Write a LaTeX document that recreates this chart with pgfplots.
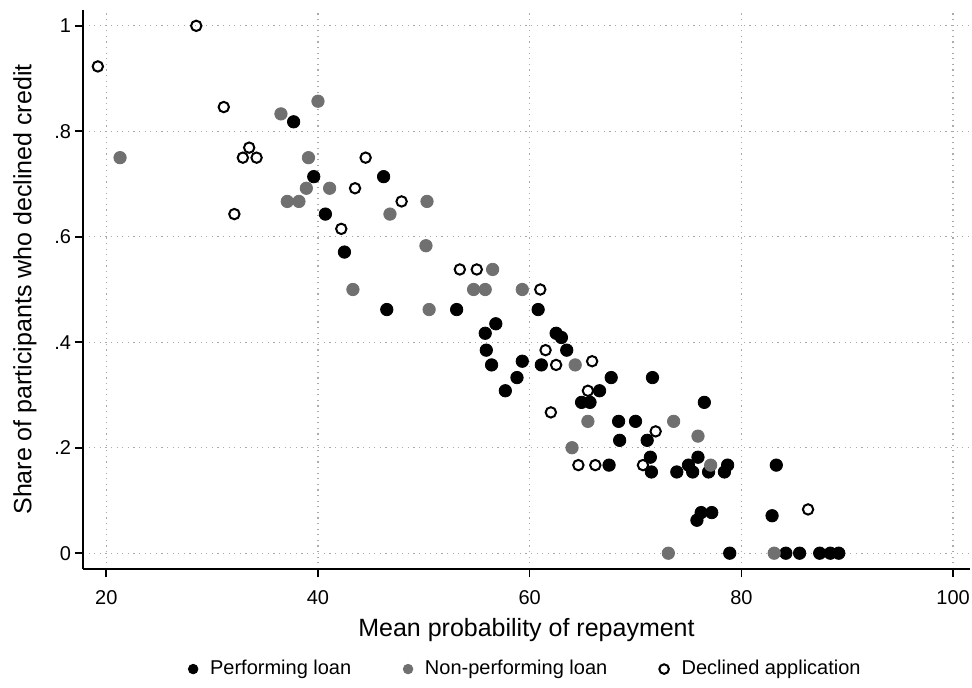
\documentclass[border=0pt]{standalone}
\usepackage{pgfplots}
\pgfplotsset{compat=1.18}
\usepackage{fontspec}
\setmainfont{Liberation Sans}
\definecolor{npgray}{RGB}{112,112,112}
\definecolor{gridgray}{RGB}{170,170,170}

\begin{document}
\begin{tikzpicture}
\path[use as bounding box] (-41.5pt,-59pt) rectangle (444.5pt,284.5pt);
\begin{axis}[
  scale only axis,
  width=443.5pt, height=279.5pt,
  xmin=17.8, xmax=101.6,
  ymin=-0.03, ymax=1.03,
  axis x line*=bottom, axis y line*=left,
  axis line style={line width=0.8pt, black},
  xtick={20,40,60,80,100},
  xticklabels={20,40,60,80,100},
  ytick={0,0.2,0.4,0.6,0.8,1},
  yticklabels={0,.2,.4,.6,.8,1},
  tick align=outside,
  major tick length=4pt,
  tick style={line width=0.8pt, black},
  /pgf/number format/assume math mode=true,
  ticklabel style={font=\fontsize{10}{12}\selectfont},
  xticklabel style={yshift=-3pt},
  yticklabel style={xshift=1.5pt},
  grid=major,
  major grid style={gridgray, line width=0.6pt, dash pattern=on 0.6pt off 2.2pt},
  xlabel={Mean probability of repayment},
  ylabel={Share of participants who declined credit},
  label style={font=\fontsize{12.5}{15}\selectfont},
  xlabel style={at={(axis description cs:0.5,-0.109)}, anchor=center},
  ylabel style={at={(axis description cs:-0.0654,0.5)}, anchor=center},
  legend columns=3,
  legend style={draw=none, fill=none, at={(0.5,-0.179)}, anchor=center,
    font=\fontsize{10}{12}\selectfont,
    /tikz/every even column/.append style={column sep=24pt}},
  legend image code/.code={\path[#1, mark size=2.4pt] plot coordinates {(0cm,0cm)}; \path (0.22cm,0cm);},
]
\addplot[only marks, mark=*, mark size=3.1pt, draw=black, fill=black] coordinates {
(37.7,0.818) (39.6,0.714) (40.7,0.643) (42.5,0.571) (46.2,0.714) (46.5,0.462)
(53.1,0.462) (55.8,0.417) (55.9,0.385) (56.4,0.357) (56.8,0.435) (57.7,0.308)
(58.8,0.333) (59.3,0.364) (60.8,0.462) (61.1,0.357) (62.5,0.417) (63.0,0.409)
(63.5,0.385) (64.9,0.286) (65.7,0.286) (66.6,0.308) (67.5,0.167) (67.7,0.333)
(68.4,0.25) (68.5,0.214) (70.0,0.25) (71.1,0.214) (71.4,0.182) (71.5,0.154)
(71.6,0.333) (73.9,0.154) (75.0,0.167) (75.4,0.154) (75.8,0.0625) (75.9,0.182)
(76.2,0.077) (76.5,0.286) (76.9,0.154) (77.2,0.077) (78.4,0.154) (78.7,0.167)
(78.9,0) (82.9,0.071) (83.3,0.167) (84.2,0) (85.5,0) (87.4,0) (88.4,0) (89.2,0)
};
\addlegendentry{Performing loan}
\addplot[only marks, mark=*, mark size=3.1pt, draw=npgray, fill=npgray] coordinates {
(21.3,0.75) (36.5,0.833) (37.1,0.667) (38.2,0.667) (38.9,0.692) (39.1,0.75)
(40.0,0.857) (41.1,0.692) (43.3,0.5) (46.8,0.643) (50.2,0.583) (50.3,0.667)
(50.5,0.462) (54.7,0.5) (55.8,0.5) (56.5,0.538) (59.3,0.5) (64.0,0.2)
(64.3,0.357) (65.5,0.25) (73.1,0) (73.6,0.25) (75.9,0.222) (77.1,0.167) (83.1,0)
};
\addlegendentry{Non-performing loan}
\addplot[only marks, mark=o, mark size=2.6pt, draw=black, line width=1pt, mark options={fill=white}] coordinates {
(19.2,0.923) (28.5,1) (31.1,0.846) (32.1,0.643) (32.9,0.75) (33.5,0.769)
(34.2,0.75) (42.2,0.615) (43.5,0.692) (44.5,0.75) (47.9,0.667) (53.4,0.538)
(55.0,0.538) (61.0,0.5) (61.5,0.385) (62.0,0.267) (62.5,0.357) (64.6,0.167)
(65.5,0.308) (65.9,0.364) (66.2,0.167) (70.7,0.167) (71.9,0.231) (86.3,0.083)
};
\addlegendentry{Declined application}
\end{axis}
\end{tikzpicture}
\end{document}
